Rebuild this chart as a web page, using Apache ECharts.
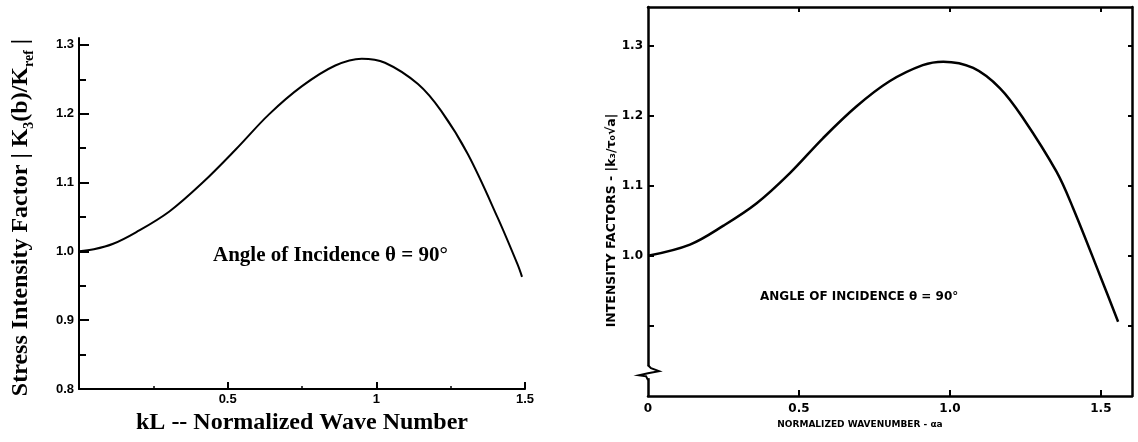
<!DOCTYPE html>
<html><head><meta charset="utf-8">
<script src="https://cdn.jsdelivr.net/npm/echarts@6/dist/echarts.min.js"></script>
<style>html,body{margin:0;padding:0;background:#fff}#c{width:1138px;height:442px}</style>
</head><body><div id="c"></div>
<script>
// ---- data ----
const leftX = [0, 0.05, 0.115, 0.193, 0.304, 0.416, 0.527, 0.639, 0.75, 0.862, 0.951, 1.029, 1.14, 1.218, 1.308, 1.408, 1.475, 1.49];
const leftY = [1.000, 1.003, 1.011, 1.028, 1.058, 1.100, 1.148, 1.199, 1.240, 1.270, 1.280, 1.274, 1.243, 1.204, 1.141, 1.049, 0.981, 0.963];
const rightX = [0, 0.139, 0.25, 0.36, 0.47, 0.58, 0.69, 0.80, 0.91, 0.978, 1.077, 1.166, 1.243, 1.353, 1.408, 1.497, 1.557];
const rightY = [1.000, 1.016, 1.043, 1.075, 1.118, 1.168, 1.213, 1.249, 1.272, 1.277, 1.268, 1.239, 1.196, 1.120, 1.068, 0.972, 0.906];

const leftXTicks = [0.5, 1, 1.5];
const leftXTickLabels = ['0.5', '1', '1.5'];
const leftXMinorTicks = [0.25, 0.75, 1.25];
const leftYTicks = [0.8, 0.9, 1.0, 1.1, 1.2, 1.3];
const leftYTickLabels = ['0.8', '0.9', '1.0', '1.1', '1.2', '1.3'];
const leftYMinorTicks = [0.85, 0.95, 1.05, 1.15, 1.25];

const rightXTicks = [0.5, 1.0, 1.5];
const rightXLabelValues = [0, 0.5, 1.0, 1.5];
const rightXTickLabels = ['0', '0.5', '1.0', '1.5'];
const rightYTicks = [0.9, 1.0, 1.1, 1.2, 1.3];
const rightYLabelValues = [1.0, 1.1, 1.2, 1.3];
const rightYTickLabels = ['1.0', '1.1', '1.2', '1.3'];

const leftTitleX = 'kL -- Normalized Wave Number';
const leftTitleY = 'Stress Intensity Factor | K{sub|3}(b)/K{sub|ref} |';
const leftNote = 'Angle of Incidence θ = 90°';
const rightTitleX = 'NORMALIZED WAVENUMBER - αa';
const rightTitleY = 'INTENSITY FACTORS - |k₃/τ₀√a|';
const rightNote = 'ANGLE OF INCIDENCE θ = 90°';

// ---- helpers ----
function labelFor(vals, labels) {
  return function (v) {
    for (let i = 0; i < vals.length; i++) if (Math.abs(v - vals[i]) < 1e-6) return labels[i];
    return '';
  };
}
const pairs = (xs, ys) => xs.map((x, i) => [x, ys[i]]);
const SERIF = '"Liberation Serif", "Times New Roman", serif';
const SANS = '"Liberation Sans", Arial, sans-serif';
const BOLDSANS = '"DejaVu Sans", sans-serif';
const blk = '#000';

const chart = echarts.init(document.getElementById('c'), null, { renderer: 'canvas' });

const option = {
  backgroundColor: '#fff',
  animation: false,
  grid: [
    { left: 79, top: 38, width: 446, height: 351 },
    { left: 648, top: 7, width: 484, height: 389 }
  ],
  xAxis: [
    { // left main
      gridIndex: 0, type: 'value', min: 0, max: 1.5, position: 'bottom',
      axisLine: { show: true, onZero: false, lineStyle: { color: blk, width: 2 } },
      axisTick: { show: true, inside: true, length: 7, lineStyle: { color: blk, width: 2 }, customValues: leftXTicks },
      axisLabel: { show: true, customValues: leftXTicks, formatter: labelFor(leftXTicks, leftXTickLabels),
        color: blk, fontFamily: SANS, fontWeight: 'bold', fontSize: 13, margin: 4 },
      splitLine: { show: false },
      name: leftTitleX, nameLocation: 'middle', nameGap: 20,
      nameTextStyle: { color: blk, fontFamily: SERIF, fontSize: 24, fontWeight: 'bold' }
    },
    { // left minor ticks
      gridIndex: 0, type: 'value', min: 0, max: 1.5, position: 'bottom',
      axisLine: { show: false },
      axisTick: { show: true, inside: true, length: 3, lineStyle: { color: blk, width: 1.5 }, customValues: leftXMinorTicks },
      axisLabel: { show: false }, splitLine: { show: false }
    },
    { // right bottom
      gridIndex: 1, type: 'value', min: 0, max: 1.603, position: 'bottom',
      axisLine: { show: true, onZero: false, lineStyle: { color: blk, width: 2.5 } },
      axisTick: { show: true, inside: true, length: 6, lineStyle: { color: blk, width: 2 }, customValues: rightXTicks },
      axisLabel: { show: true, customValues: rightXLabelValues, formatter: labelFor(rightXLabelValues, rightXTickLabels),
        color: blk, fontFamily: BOLDSANS, fontWeight: 'bold', fontSize: 12, margin: 7 },
      splitLine: { show: false },
      name: rightTitleX, nameLocation: 'middle', nameGap: 22,
      nameTextStyle: { color: blk, fontFamily: BOLDSANS, fontSize: 9, fontWeight: 'bold', padding: [0, 60, 0, 0] }
    },
    { // right top
      gridIndex: 1, type: 'value', min: 0, max: 1.603, position: 'top',
      axisLine: { show: true, onZero: false, lineStyle: { color: blk, width: 2.5 } },
      axisTick: { show: true, inside: true, length: 5, lineStyle: { color: blk, width: 2 }, customValues: rightXTicks },
      axisLabel: { show: false }, splitLine: { show: false }
    }
  ],
  yAxis: [
    { // left main
      gridIndex: 0, type: 'value', min: 0.8, max: 1.31, position: 'left',
      axisLine: { show: true, onZero: false, lineStyle: { color: blk, width: 2 } },
      axisTick: { show: true, inside: true, length: 10, lineStyle: { color: blk, width: 2 }, customValues: leftYTicks },
      axisLabel: { show: true, customValues: leftYTicks, formatter: labelFor(leftYTicks, leftYTickLabels),
        color: blk, fontFamily: SANS, fontWeight: 'bold', fontSize: 13, margin: 5 },
      splitLine: { show: false },
      name: leftTitleY, nameLocation: 'middle', nameGap: 43,
      nameTextStyle: { color: blk, fontFamily: SERIF, fontSize: 24, fontWeight: 'bold', padding: [0, 8, 0, 0],
        rich: { sub: { fontFamily: SERIF, fontSize: 14, fontWeight: 'bold', verticalAlign: 'bottom', lineHeight: 30 } } }
    },
    { // left minor
      gridIndex: 0, type: 'value', min: 0.8, max: 1.31, position: 'left',
      axisLine: { show: false },
      axisTick: { show: true, inside: true, length: 7, lineStyle: { color: blk, width: 2 }, customValues: leftYMinorTicks },
      axisLabel: { show: false }, splitLine: { show: false }
    },
    { // right left
      gridIndex: 1, type: 'value', min: 0.8, max: 1.355, position: 'left',
      axisLine: { show: true, onZero: false, lineStyle: { color: blk, width: 2.5 } },
      axisTick: { show: true, inside: true, length: 6, lineStyle: { color: blk, width: 2 }, customValues: rightYTicks },
      axisLabel: { show: true, customValues: rightYLabelValues, formatter: labelFor(rightYLabelValues, rightYTickLabels),
        color: blk, fontFamily: BOLDSANS, fontWeight: 'bold', fontSize: 12, margin: 5 },
      splitLine: { show: false },
      name: rightTitleY, nameLocation: 'middle', nameGap: 25,
      nameTextStyle: { color: blk, fontFamily: BOLDSANS, fontSize: 12.5, fontWeight: 'bold', padding: [0, 38, 0, 0] }
    },
    { // right right
      gridIndex: 1, type: 'value', min: 0.8, max: 1.355, position: 'right',
      axisLine: { show: true, onZero: false, lineStyle: { color: blk, width: 2.5 } },
      axisTick: { show: true, inside: true, length: 4, lineStyle: { color: blk, width: 2 }, customValues: rightYTicks },
      axisLabel: { show: false }, splitLine: { show: false }
    }
  ],
  series: [
    { type: 'line', xAxisIndex: 0, yAxisIndex: 0, data: pairs(leftX, leftY), smooth: 0.35, symbol: 'none',
      lineStyle: { color: blk, width: 2 } },
    { type: 'line', xAxisIndex: 2, yAxisIndex: 2, data: pairs(rightX, rightY), smooth: 0.35, symbol: 'none',
      lineStyle: { color: blk, width: 2.5 } }
  ]
};
chart.setOption(option);

// annotations and the axis-break symbol on the right panel's left axis
const p = chart.convertToPixel({ xAxisIndex: 2, yAxisIndex: 2 }, [0, 0.834]);
chart.setOption({ graphic: [
  { type: 'text', left: 213, top: 245, style: { text: leftNote, fill: blk, font: 'bold 21px ' + SERIF } },
  { type: 'text', left: 760, top: 291, style: { text: rightNote, fill: blk, font: 'bold 12px ' + BOLDSANS } },
  { type: 'rect', shape: { x: p[0] - 3, y: p[1] - 6, width: 6, height: 12 }, style: { fill: '#fff' }, z: 100 },
  { type: 'polyline', z: 101, shape: { points: [[p[0], p[1] - 7], [p[0] + 3, p[1] - 4], [p[0] + 11, p[1] - 1], [p[0], p[1] + 1], [p[0] - 9, p[1] + 3], [p[0] - 2, p[1] + 4], [p[0], p[1] + 8]] },
    style: { stroke: blk, lineWidth: 2, fill: 'none' } }
] });
</script></body></html>
